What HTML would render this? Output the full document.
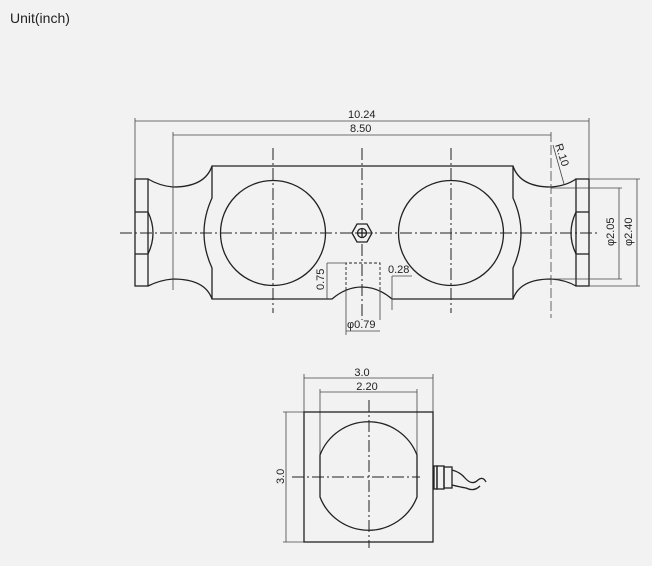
<!DOCTYPE html>
<html><head><meta charset="utf-8"><style>
body{margin:0;background:#f2f2f2;}
svg{display:block}
text{font-family:"Liberation Sans",sans-serif;fill:#222}
</style></head><body>
<svg width="652" height="566" viewBox="0 0 652 566" xmlns="http://www.w3.org/2000/svg">
<rect width="652" height="566" fill="#f2f2f2"/>
<text x="10" y="23" font-size="14">Unit(inch)</text>
<g stroke="#222" fill="none" stroke-width="1.3">
<!-- left end block -->
<rect x="135" y="179" width="13" height="107"/>
<line x1="135" y1="212" x2="148" y2="212"/><line x1="135" y1="254" x2="148" y2="254"/>
<path d="M148 212 Q158 233 148 254"/>
<!-- body -->
<path d="M148 179 Q160 186 173 187 Q205 187 212 166 L513 166 Q520 187 551 187 Q566 186 576 179"/>
<path d="M148 286 Q160 280 173 279 Q205 279 212 299 L332 299 Q346 287 362 287 Q378 287 392 299 L513 299 Q520 279 551 279 Q566 280 576 286"/>
<path d="M212 166 L212 198 Q196 233 212 268 L212 299"/>
<path d="M513 166 L513 198 Q529 233 513 268 L513 299"/>
<!-- right end block -->
<rect x="576" y="179" width="13" height="107"/>
<line x1="576" y1="212" x2="589" y2="212"/><line x1="576" y1="254" x2="589" y2="254"/>
<path d="M576 212 Q566 233 576 254"/>
<circle cx="273" cy="233" r="52.5"/>
<circle cx="451" cy="233" r="52.5"/>
<!-- nut -->
<polygon points="352,233 357,224 367,224 372,233 367,242 357,242"/>
<circle cx="362" cy="233" r="4.5"/>
<line x1="362" y1="228" x2="362" y2="238"/><line x1="357" y1="233" x2="367" y2="233"/>
</g>
<g stroke="#222" fill="none" stroke-width="1" stroke-dasharray="12,3,2,3">
<line x1="120" y1="233" x2="600" y2="233"/>
<line x1="273" y1="148" x2="273" y2="313"/>
<line x1="451" y1="148" x2="451" y2="313"/>
<line x1="362" y1="148" x2="362" y2="222"/>
<line x1="362" y1="244" x2="362" y2="320"/>
<line x1="369" y1="400" x2="369" y2="548"/>
<line x1="292" y1="477" x2="420" y2="477"/>
</g>
<g stroke="#222" fill="none" stroke-width="0.9" stroke-dasharray="3,2">
<path d="M346 290 L346 263 L380 263 L380 290"/>
</g>
<g stroke="#444" fill="none" stroke-width="0.8">
<line x1="135" y1="118" x2="135" y2="179"/><line x1="589" y1="118" x2="589" y2="179"/>
<line x1="135" y1="121" x2="589" y2="121"/>
<line x1="173" y1="132" x2="173" y2="290"/><line x1="551" y1="132" x2="551" y2="318" stroke-dasharray="10,3"/>
<line x1="173" y1="135" x2="551" y2="135"/>
<line x1="589" y1="179" x2="640" y2="179"/><line x1="589" y1="286" x2="640" y2="286"/>
<line x1="551" y1="188" x2="622" y2="188"/><line x1="551" y1="279" x2="622" y2="279"/>
<line x1="619" y1="188" x2="619" y2="279"/><line x1="637" y1="179" x2="637" y2="286"/>
<line x1="553" y1="145" x2="564" y2="184"/>
<line x1="327" y1="263" x2="346" y2="263"/><line x1="327" y1="263" x2="327" y2="299"/>
<line x1="346" y1="290" x2="346" y2="335"/><line x1="380" y1="290" x2="380" y2="320"/>
<line x1="346" y1="331" x2="380" y2="331"/>
<line x1="392" y1="276" x2="412" y2="276"/><line x1="392" y1="276" x2="392" y2="310"/>
<!-- bottom view dims -->
<line x1="304" y1="374" x2="304" y2="412"/><line x1="433" y1="374" x2="433" y2="412"/>
<line x1="304" y1="378" x2="433" y2="378"/>
<line x1="320" y1="389" x2="320" y2="455"/><line x1="417" y1="389" x2="417" y2="455"/>
<line x1="320" y1="392" x2="417" y2="392"/>
<line x1="283" y1="412" x2="304" y2="412"/><line x1="283" y1="542" x2="304" y2="542"/>
<line x1="286" y1="412" x2="286" y2="542"/>
</g>
<g stroke="#222" fill="none" stroke-width="1.3">
<rect x="304" y="412" width="129" height="130"/>
<path d="M320 455 A52 52 0 0 1 417 455 L417 497 A52 52 0 0 1 320 497 Z"/>
<rect x="434" y="466" width="3" height="23"/>
<rect x="437" y="466" width="7" height="23"/>
<rect x="444" y="467" width="8" height="21"/>
<path d="M452 470 Q460 472 465 478 Q472 486 478 480 Q483 476 486 482"/>
<path d="M452 485 Q460 487 466 488 Q474 492 480 486"/>
</g>
<g font-size="11">
<text x="348" y="118">10.24</text>
<text x="350" y="132">8.50</text>
<text x="362" y="376" text-anchor="middle">3.0</text>
<text x="367" y="390" text-anchor="middle">2.20</text>
<text x="388" y="273">0.28</text>
<text x="347" y="328">φ0.79</text>
<text transform="translate(324,290) rotate(-90)">0.75</text>
<text transform="translate(284,484) rotate(-90)">3.0</text>
<text transform="translate(614,246) rotate(-90)">φ2.05</text>
<text transform="translate(632,246) rotate(-90)">φ2.40</text>
<text transform="translate(555,145) rotate(72)">R.10</text>
</g>
</svg>
</body></html>
